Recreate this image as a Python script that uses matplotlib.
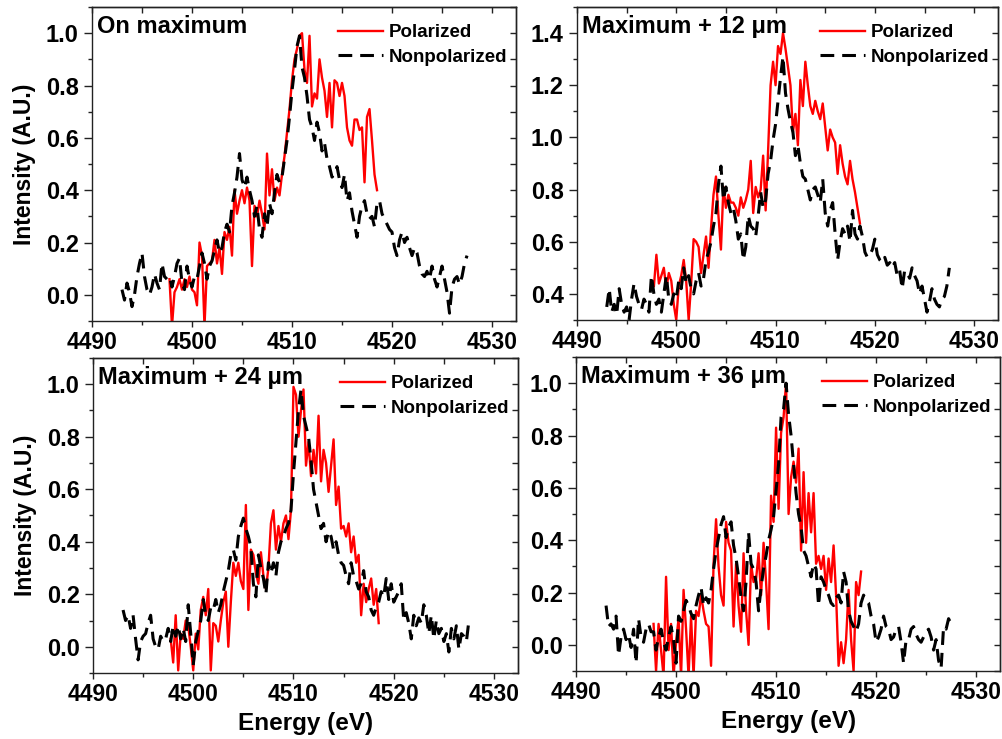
import numpy as np
import matplotlib.pyplot as plt
from matplotlib.ticker import MultipleLocator, FormatStrFormatter

plt.rcParams['font.family'] = ['Liberation Sans', 'DejaVu Sans']
plt.rcParams['font.weight'] = 'bold'

# energy grids: nonpolarized starts at 4493 eV, polarized at 4497.75 eV, 0.25 eV steps
e_step = 0.25
e0_np = 4493.0
e0_pol = 4497.75

titles = ['On maximum', 'Maximum + 12 \u03bcm', 'Maximum + 24 \u03bcm', 'Maximum + 36 \u03bcm']
ylims = [(-0.1, 1.1), (0.3, 1.5), (-0.1, 1.1), (-0.1, 1.1)]

# ---- On maximum ----
np1 = [0.02, -0.02, 0.045, 0.01, -0.045, 0.0, 0.07, 0.12, 0.16, 0.07, 0.02, 0.0,
       0.03, 0.08, 0.045, 0.02, 0.12, 0.07, 0.06, 0.07, 0.03, 0.07, 0.12, 0.14,
       0.045, 0.02, 0.11, 0.06, 0.03, 0.07, 0.06, 0.11, 0.16, 0.12, 0.06, 0.11,
       0.13, 0.17, 0.21, 0.16, 0.18, 0.24, 0.27, 0.24, 0.34, 0.39, 0.45, 0.54,
       0.44, 0.41, 0.45, 0.40, 0.36, 0.30, 0.34, 0.25, 0.22, 0.31, 0.26, 0.35,
       0.31, 0.39, 0.46, 0.43, 0.45, 0.52, 0.59, 0.68, 0.78, 0.86, 0.95, 0.99,
       0.87, 0.83, 0.76, 0.67, 0.64, 0.59, 0.66, 0.62, 0.55, 0.58, 0.52, 0.49,
       0.45, 0.46, 0.49, 0.44, 0.41, 0.46, 0.36, 0.39, 0.32, 0.27, 0.22, 0.30,
       0.34, 0.36, 0.31, 0.29, 0.30, 0.26, 0.35, 0.36, 0.31, 0.29, 0.27, 0.25,
       0.24, 0.18, 0.15, 0.21, 0.24, 0.20, 0.22, 0.18, 0.15, 0.18, 0.16, 0.11,
       0.08, 0.07, 0.09, 0.06, 0.11, 0.06, 0.03, 0.07, 0.11, 0.06, 0.01, -0.07,
       0.03, 0.06, 0.07, 0.04, 0.07, 0.12, 0.15]
pol1 = [0.06, -0.12, 0.01, 0.03, 0.06, 0.02, 0.06, 0.03, 0.07, 0.02, 0.01, -0.04,
        0.20, 0.15, -0.12, 0.11, 0.12, 0.13, 0.21, 0.12, 0.18, 0.08, 0.24, 0.21,
        0.26, 0.15, 0.40, 0.31, 0.36, 0.40, 0.35, 0.41, 0.36, 0.11, 0.34, 0.30,
        0.36, 0.31, 0.25, 0.54, 0.38, 0.48, 0.36, 0.41, 0.38, 0.46, 0.53, 0.62,
        0.71, 0.82, 0.90, 0.94, 0.99, 1.00, 0.86, 0.81, 0.99, 0.72, 0.77, 0.75,
        0.90, 0.83, 0.78, 0.68, 0.81, 0.64, 0.82, 0.81, 0.76, 0.81, 0.76, 0.64,
        0.59, 0.57, 0.67, 0.67, 0.63, 0.64, 0.43, 0.68, 0.71, 0.59, 0.46, 0.40]

# ---- Maximum + 12 um ----
np2 = [0.35, 0.42, 0.33, 0.36, 0.32, 0.42, 0.36, 0.33, 0.35, 0.30, 0.38, 0.44,
       0.39, 0.36, 0.34, 0.38, 0.36, 0.33, 0.47, 0.40, 0.36, 0.38, 0.33, 0.40,
       0.47, 0.38, 0.36, 0.40, 0.38, 0.45, 0.42, 0.50, 0.44, 0.47, 0.42, 0.40,
       0.45, 0.48, 0.43, 0.46, 0.53, 0.56, 0.60, 0.66, 0.71, 0.82, 0.89, 0.76,
       0.81, 0.75, 0.71, 0.73, 0.68, 0.61, 0.63, 0.53, 0.58, 0.70, 0.66, 0.65,
       0.62, 0.70, 0.79, 0.73, 0.76, 0.86, 0.91, 0.99, 1.05, 1.14, 1.23, 1.31,
       1.17, 1.11, 1.06, 1.02, 0.93, 0.97, 0.90, 0.85, 0.84, 0.80, 0.76, 0.80,
       0.81, 0.78, 0.75, 0.84, 0.71, 0.66, 0.72, 0.75, 0.63, 0.53, 0.60, 0.65,
       0.63, 0.66, 0.60, 0.72, 0.63, 0.61, 0.66, 0.62, 0.56, 0.54, 0.55, 0.57,
       0.61, 0.55, 0.53, 0.52, 0.54, 0.51, 0.52, 0.50, 0.52, 0.47, 0.49, 0.42,
       0.49, 0.48, 0.46, 0.50, 0.47, 0.45, 0.40, 0.43, 0.38, 0.33, 0.37, 0.42,
       0.38, 0.36, 0.35, 0.38, 0.39, 0.43, 0.50]
pol2 = [0.43, 0.55, 0.44, 0.47, 0.50, 0.42, 0.48, 0.45, 0.36, 0.30, 0.43, 0.47,
        0.53, 0.45, 0.30, 0.44, 0.61, 0.60, 0.58, 0.48, 0.55, 0.62, 0.50, 0.65,
        0.78, 0.85, 0.70, 0.57, 0.81, 0.73, 0.78, 0.75, 0.75, 0.73, 0.70, 0.77,
        0.73, 0.76, 0.80, 0.91, 0.71, 0.81, 0.77, 0.80, 0.93, 0.72, 0.95, 1.20,
        1.29, 1.20, 1.35, 1.32, 1.40, 1.34, 1.27, 1.20, 1.02, 1.09, 0.97, 1.22,
        1.12, 1.29, 1.20, 1.12, 1.09, 1.14, 1.10, 1.07, 1.13, 1.04, 0.95, 1.03,
        1.00, 0.98, 0.86, 0.97, 0.90, 0.85, 0.82, 0.91, 0.84, 0.79, 0.73, 0.67]

# ---- Maximum + 24 um ----
np3 = [0.14, 0.10, 0.12, 0.07, 0.12, 0.03, -0.05, 0.02, 0.04, 0.05, 0.09, 0.12,
       0.03, 0.00, -0.01, 0.04, 0.02, 0.03, 0.07, 0.02, 0.08, 0.04, 0.08, 0.03,
       0.07, 0.02, 0.16, 0.05, -0.07, 0.02, 0.06, 0.10, 0.18, 0.12, 0.10, 0.15,
       0.14, 0.18, 0.13, 0.16, 0.21, 0.25, 0.29, 0.35, 0.37, 0.33, 0.42, 0.46,
       0.49, 0.45, 0.42, 0.38, 0.24, 0.19, 0.35, 0.30, 0.26, 0.20, 0.32, 0.28,
       0.32, 0.27, 0.36, 0.40, 0.42, 0.45, 0.47, 0.52, 0.66, 0.78, 0.90, 0.98,
       0.88, 0.84, 0.80, 0.71, 0.60, 0.55, 0.50, 0.45, 0.47, 0.40, 0.44, 0.42,
       0.37, 0.40, 0.35, 0.32, 0.31, 0.27, 0.24, 0.32, 0.27, 0.25, 0.22, 0.24,
       0.29, 0.21, 0.19, 0.14, 0.12, 0.15, 0.17, 0.21, 0.19, 0.26, 0.18, 0.24,
       0.17, 0.19, 0.21, 0.24, 0.10, 0.13, 0.09, 0.03, 0.12, 0.08, 0.11, 0.09,
       0.16, 0.12, 0.05, 0.12, 0.03, 0.10, 0.05, 0.07, 0.02, 0.05, -0.02, 0.07,
       0.03, 0.08, -0.01, 0.05, 0.04, 0.02, 0.10]
pol3 = [0.03, -0.06, 0.12, -0.09, 0.05, 0.03, 0.10, 0.08, 0.00, -0.09, 0.05, -0.01,
        0.14, 0.19, 0.12, 0.22, -0.09, 0.09, 0.08, 0.02, 0.10, 0.17, 0.21, 0.00,
        0.17, 0.32, 0.27, 0.32, 0.25, 0.22, 0.54, 0.14, 0.37, 0.35, 0.28, 0.24,
        0.36, 0.27, 0.22, 0.30, 0.47, 0.52, 0.37, 0.46, 0.40, 0.47, 0.50, 0.41,
        0.52, 0.99, 0.96, 0.80, 0.90, 0.98, 0.69, 0.78, 0.65, 0.75, 0.66, 0.88,
        0.63, 0.75, 0.70, 0.59, 0.69, 0.79, 0.54, 0.61, 0.45, 0.46, 0.42, 0.47,
        0.36, 0.42, 0.32, 0.35, 0.12, 0.24, 0.17, 0.22, 0.26, 0.16, 0.22, 0.09]

# ---- Maximum + 36 um ----
np4 = [0.15, 0.07, 0.08, 0.06, 0.11, -0.04, 0.03, 0.06, 0.02, 0.04, -0.01, 0.06,
       -0.07, 0.10, 0.03, 0.01, 0.06, 0.08, 0.05, 0.05, -0.02, 0.03, 0.06, 0.01,
       -0.02, 0.03, 0.07, 0.02, -0.07, 0.11, 0.09, 0.13, 0.17, 0.15, 0.12, 0.10,
       0.15, 0.19, 0.22, 0.15, 0.18, 0.16, 0.21, 0.29, 0.36, 0.41, 0.46, 0.49,
       0.41, 0.45, 0.47, 0.38, 0.33, 0.26, 0.18, 0.13, 0.24, 0.43, 0.31, 0.29,
       0.24, 0.13, 0.22, 0.29, 0.34, 0.40, 0.44, 0.49, 0.59, 0.69, 0.87, 0.90,
       1.00, 0.88, 0.80, 0.69, 0.58, 0.50, 0.45, 0.36, 0.34, 0.30, 0.26, 0.31,
       0.29, 0.15, 0.26, 0.24, 0.21, 0.19, 0.16, 0.15, 0.18, 0.19, 0.16, 0.28,
       0.24, 0.13, 0.09, 0.07, 0.05, 0.08, 0.16, 0.19, 0.17, 0.16, 0.11, 0.08,
       0.01, 0.03, 0.06, 0.11, 0.07, 0.06, 0.02, 0.03, 0.06, 0.07, 0.01, -0.07,
       0.02, 0.02, 0.06, 0.07, 0.04, 0.02, 0.01, 0.03, 0.05, 0.06, 0.03, -0.02,
       0.02, -0.06, -0.09, 0.07, 0.06, 0.10, 0.08]
pol4 = [0.08, -0.10, 0.08, -0.02, -0.12, 0.26, -0.02, 0.08, -0.12, 0.01, 0.10, -0.12,
        0.21, 0.06, -0.12, 0.11, -0.12, 0.13, 0.11, 0.19, 0.13, 0.08, 0.07, -0.08,
        0.31, 0.48, 0.30, 0.19, 0.15, 0.47, 0.39, 0.36, 0.07, 0.31, 0.15, 0.05,
        0.35, 0.13, 0.00, 0.31, 0.24, 0.25, 0.35, 0.19, 0.39, 0.24, 0.06, 0.57,
        0.47, 0.83, 0.52, 0.81, 0.87, 1.00, 0.50, 0.64, 0.70, 0.62, 0.75, 0.36,
        0.66, 0.39, 0.58, 0.43, 0.58, 0.31, 0.34, 0.29, 0.34, 0.21, 0.33, 0.24,
        0.38, 0.19, -0.08, 0.01, -0.07, 0.02, 0.21, 0.02, -0.10, 0.24, 0.19, 0.28]

nonpol = [np1, np2, np3, np4]
pol = [pol1, pol2, pol3, pol4]

fig = plt.figure(figsize=(10.02, 7.39), dpi=100)
rects = [
    [0.0918, 0.5656, 0.4232, 0.4249],
    [0.5758, 0.5670, 0.4202, 0.4236],
    [0.0928, 0.0893, 0.4242, 0.4263],
    [0.5749, 0.0920, 0.4232, 0.4249],
]

for i in range(4):
    ax = fig.add_axes(rects[i])
    yp = np.array(pol[i])
    yn = np.array(nonpol[i])
    xp = e0_pol + e_step * np.arange(len(yp))
    xn = e0_np + e_step * np.arange(len(yn))
    ax.plot(xp, yp, color='#ff0000', lw=1.7, label='Polarized', zorder=2)
    ax.plot(xn, yn, color='black', lw=2.2, ls=(0, (4.5, 2.6)), label='Nonpolarized', zorder=3)

    ax.set_xlim(4490, 4532.4)
    ax.set_ylim(*ylims[i])
    ax.xaxis.set_major_locator(MultipleLocator(10))
    ax.xaxis.set_minor_locator(MultipleLocator(5))
    ax.yaxis.set_major_locator(MultipleLocator(0.2))
    ax.yaxis.set_minor_locator(MultipleLocator(0.1))
    ax.yaxis.set_major_formatter(FormatStrFormatter('%.1f'))
    ax.xaxis.set_major_formatter(FormatStrFormatter('%d'))

    ax.tick_params(axis='both', which='both', direction='out', top=False, right=False,
                   width=1.0, color='#222222')
    ax.tick_params(axis='both', which='major', length=4.5)
    ax.tick_params(axis='both', which='minor', length=3)
    ax.tick_params(axis='y', which='major', labelsize=17, length=5.5, pad=4)
    ax.tick_params(axis='x', which='major', labelsize=16.5, pad=3)

    # mirrored inward ticks on top and right
    sec_x = ax.secondary_xaxis('top')
    sec_x.xaxis.set_major_locator(MultipleLocator(5))
    sec_x.tick_params(direction='in', length=4, width=1.0, labeltop=False, color='#222222')
    sec_y = ax.secondary_yaxis('right')
    sec_y.yaxis.set_major_locator(MultipleLocator(0.1))
    sec_y.tick_params(direction='in', length=4, width=1.0, labelright=False, color='#222222')
    for sp in list(ax.spines.values()) + [sec_x.spines['top'], sec_y.spines['right']]:
        sp.set_linewidth(1.0)
        sp.set_color('#222222')

    ax.text(0.012, 0.975, titles[i], transform=ax.transAxes, fontsize=17,
            fontweight='bold', ha='left', va='top')
    ax.legend(loc='upper right', bbox_to_anchor=(0.993, 0.963), frameon=False,
              prop={'size': 13.5, 'weight': 'bold'},
              handlelength=2.4, handletextpad=0.3, labelspacing=0.38,
              borderaxespad=0.0, borderpad=0.3)

    if i in (0, 2):
        ax.set_ylabel('Intensity (A.U.)', fontsize=16.5, fontweight='bold', labelpad=7)
    if i in (2, 3):
        ax.set_xlabel('Energy (eV)', fontsize=17.5, fontweight='bold', labelpad=4)

fig.savefig('out.png', dpi=100)
